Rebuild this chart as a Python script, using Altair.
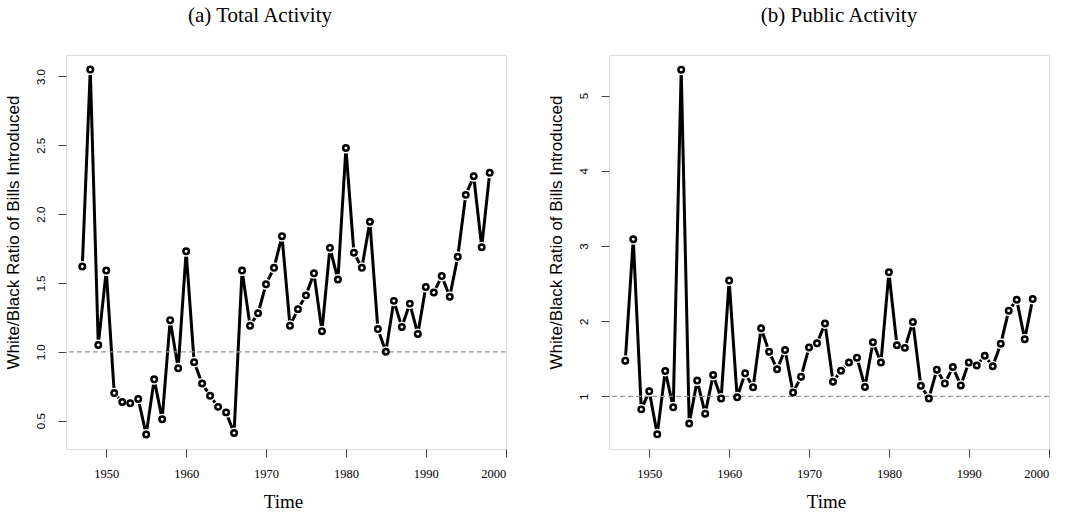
import altair as alt
import pandas as pd

years = [1947, 1948, 1949, 1950, 1951, 1952, 1953, 1954, 1955, 1956, 1957, 1958, 1959,
         1960, 1961, 1962, 1963, 1964, 1965, 1966, 1967, 1968, 1969, 1970, 1971, 1972,
         1973, 1974, 1975, 1976, 1977, 1978, 1979, 1980, 1981, 1982, 1983, 1984, 1985,
         1986, 1987, 1988, 1989, 1990, 1991, 1992, 1993, 1994, 1995, 1996, 1997, 1998]

total_activity = [1.62, 3.05, 1.05, 1.59, 0.70, 0.635, 0.627, 0.658, 0.40, 0.80, 0.51, 1.23, 0.88,
                  1.73, 0.925, 0.77, 0.68, 0.60, 0.56, 0.41, 1.59, 1.19, 1.28, 1.49, 1.61, 1.84,
                  1.19, 1.31, 1.41, 1.57, 1.15, 1.755, 1.525, 2.48, 1.72, 1.61, 1.945, 1.165, 1.0,
                  1.37, 1.18, 1.35, 1.13, 1.47, 1.43, 1.55, 1.40, 1.69, 2.14, 2.275, 1.76, 2.30]

public_activity = [1.475, 3.09, 0.827, 1.067, 0.495, 1.338, 0.854, 5.345, 0.64, 1.21, 0.77, 1.285, 0.973,
                   2.54, 0.987, 1.306, 1.12, 1.905, 1.594, 1.36, 1.617, 1.05, 1.26, 1.65, 1.705, 1.97,
                   1.195, 1.34, 1.45, 1.515, 1.125, 1.72, 1.45, 2.65, 1.68, 1.645, 1.99, 1.14, 0.973,
                   1.355, 1.17, 1.39, 1.146, 1.45, 1.41, 1.54, 1.40, 1.70, 2.14, 2.285, 1.76, 2.295]

x_ticks = [1950, 1960, 1970, 1980, 1990, 2000]
left_ticks = [0.5, 1.0, 1.5, 2.0, 2.5, 3.0]
right_ticks = [1, 2, 3, 4, 5]

SERIF = "Liberation Serif"
SANS = "Liberation Sans"
W, H = 440, 394


def panel(values, ydomain, yticks, yfmt, title, title_dx):
    df = pd.DataFrame({"year": years, "ratio": values})
    x = alt.X("year:Q",
              scale=alt.Scale(domain=[1944.96, 2000.04], nice=False, zero=False),
              axis=alt.Axis(values=x_ticks, format="d", title="Time",
                            labelFont=SERIF, labelFontSize=12.5, labelColor="black",
                            labelBaseline="alphabetic", labelPadding=20,
                            tickSize=8, tickColor="#444", domain=False, grid=False,
                            titleFont=SERIF, titleFontSize=19, titleFontWeight="normal",
                            titleColor="black", titleBaseline="alphabetic",
                            titleX=W / 2 - 3, titleY=58))
    y = alt.Y("ratio:Q",
              scale=alt.Scale(domain=ydomain, nice=False, zero=False),
              axis=alt.Axis(values=yticks, format=yfmt,
                            title="White/Black Ratio of Bills Introduced",
                            labelFont=SANS, labelFontSize=11.5, labelColor="black",
                            labelAngle=270, labelAlign="center", labelBaseline="alphabetic",
                            labelPadding=13.5,
                            tickSize=8, tickColor="#444", domain=False, grid=False,
                            titleFont=SANS, titleFontSize=17, titleFontWeight="normal",
                            titleColor="black", titleAngle=270, titleAlign="center",
                            titleBaseline="alphabetic", titleX=-48, titleY=177))
    base = alt.Chart(df).encode(x=x, y=y)
    line = base.mark_line(color="black", strokeWidth=3)
    gap = base.mark_point(shape="circle", filled=True, color="white", size=120, opacity=1)
    ref = alt.Chart(pd.DataFrame({"ratio": [1.0]})).mark_rule(
        color="#999", strokeDash=[5, 3], strokeWidth=1.2).encode(y="ratio:Q")
    pts = base.mark_point(shape="circle", filled=False, color="black",
                          strokeWidth=2.5, size=30, opacity=1)
    return alt.layer(line, gap, ref, pts).properties(
        width=W, height=H,
        title=alt.TitleParams(text=title, font=SERIF, fontSize=21, fontWeight="normal",
                              color="black", anchor="middle", baseline="alphabetic",
                              offset=12, dx=title_dx))


left = panel(total_activity, [0.294, 3.156], left_ticks, ".1f", "(a) Total Activity", -26)
right = panel(public_activity, [0.30, 5.54], right_ticks, "d", "(b) Public Activity", 10)

chart = alt.hconcat(left, right, spacing=103, bounds="flush").resolve_scale(
    y="independent"
).properties(
    padding={"left": 3, "top": 4, "right": 5, "bottom": 5}
).configure_view(stroke="#444", strokeWidth=1).configure(background="white")

chart.save("out.html", embed_options={"renderer": "svg", "actions": False})
